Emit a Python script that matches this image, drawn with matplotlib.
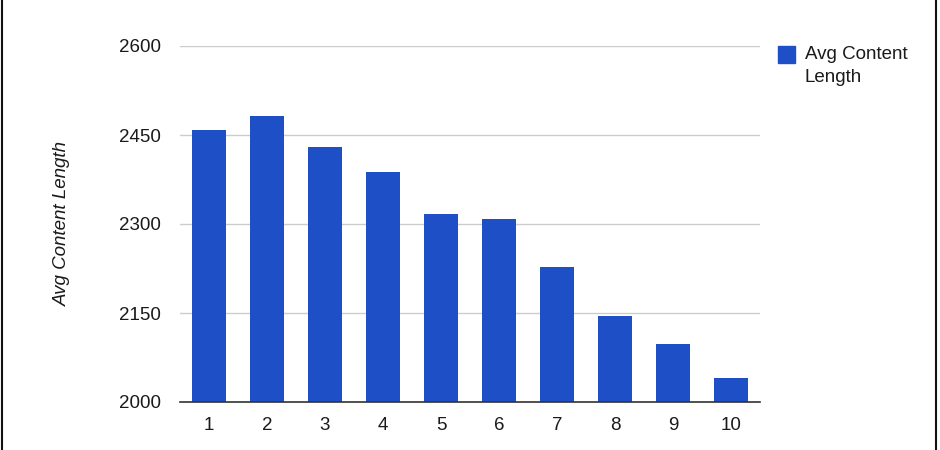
import matplotlib
matplotlib.use('Agg')
import matplotlib.pyplot as plt
from matplotlib.lines import Line2D
from matplotlib.patches import Rectangle

# values
categories = ['1', '2', '3', '4', '5', '6', '7', '8', '9', '10']
avg_content_length = [2458, 2482, 2430, 2388, 2317, 2308, 2228, 2145, 2098, 2040]
y_ticks = [2000, 2150, 2300, 2450, 2600]

BAR_COLOR = '#1f4fc6'
TEXT_COLOR = '#1a1a1a'
FS = 13.5

plt.rcParams['font.family'] = ['Liberation Sans', 'DejaVu Sans']

fig = plt.figure(figsize=(9.4, 4.5), dpi=100)
ax = fig.add_axes([180 / 940, 1 - 402 / 450, 580 / 940, 356 / 450])

x = list(range(len(categories)))
ax.bar(x, avg_content_length, width=0.59, color=BAR_COLOR, zorder=3)

ax.set_xlim(-0.5, len(categories) - 0.5)
ax.set_ylim(2000, 2600)
ax.set_yticks(y_ticks)
ax.set_yticklabels([str(v) for v in y_ticks], fontsize=FS, color=TEXT_COLOR)
ax.set_xticks(x)
ax.set_xticklabels(categories, fontsize=FS, color=TEXT_COLOR)
ax.tick_params(axis='both', length=0)
ax.tick_params(axis='y', pad=14)
ax.tick_params(axis='x', pad=11)
ax.grid(axis='y', color='#cccccc', linewidth=1, zorder=0)

for side in ['top', 'right', 'left']:
    ax.spines[side].set_visible(False)
ax.spines['bottom'].set_color('#333333')
ax.spines['bottom'].set_linewidth(1.2)
ax.spines['bottom'].set_zorder(4)

fig.text(62 / 940, 1 - 224 / 450, 'Avg Content Length', rotation=90,
         style='italic', fontsize=FS, color=TEXT_COLOR,
         ha='center', va='center')

# legend drawn by hand to match the layout
fig.add_artist(Rectangle((778 / 940, 1 - 63 / 450), 17 / 940, 17 / 450,
                         transform=fig.transFigure, color=BAR_COLOR))
fig.text(805 / 940, 1 - 46 / 450, 'Avg Content\nLength', fontsize=FS,
         color=TEXT_COLOR, ha='left', va='top', linespacing=1.45)

# frame lines at the sides of the screenshot
fig.add_artist(Line2D([2 / 940, 2 / 940], [0, 1], transform=fig.transFigure,
                      color='#111111', linewidth=1.5))
fig.add_artist(Line2D([936 / 940, 936 / 940], [0, 1], transform=fig.transFigure,
                      color='#111111', linewidth=1.5))

fig.savefig('out.png', dpi=100)
